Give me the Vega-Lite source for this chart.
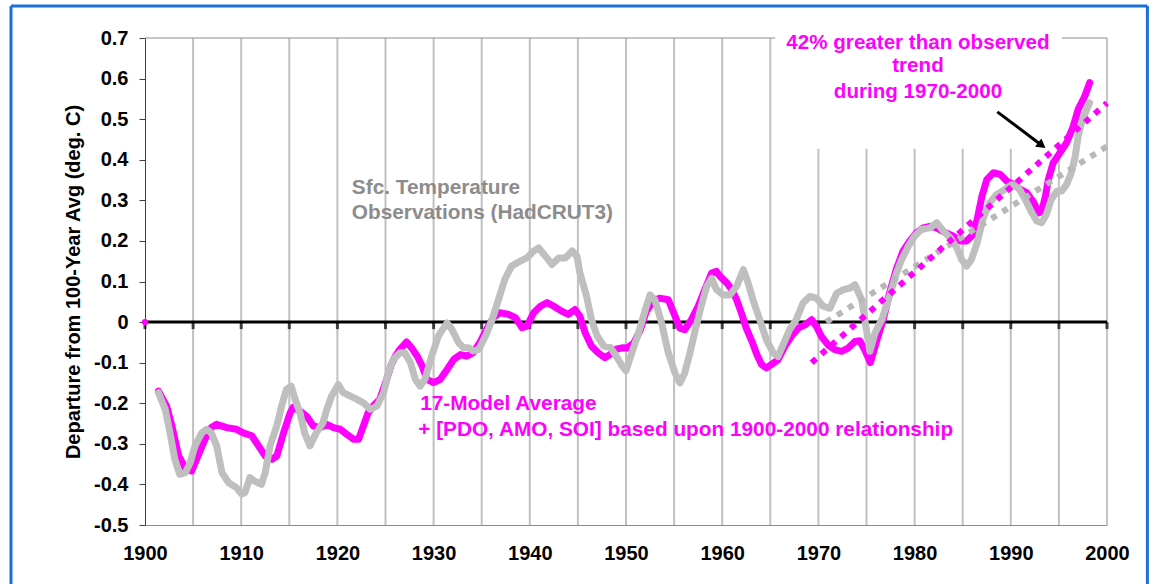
{
  "$schema": "https://vega.github.io/schema/vega-lite/v6.json",
  "width": 962,
  "height": 487,
  "autosize": {"type": "none"},
  "padding": {"left": 145, "top": 38, "right": 49, "bottom": 59},
  "background": "white",
  "config": {"view": {"stroke": null}, "font": "Liberation Sans"},
  "datasets": {
    "grid": [
      {"year": 1905, "value": -0.5, "value2": 0.7},
      {"year": 1910, "value": -0.5, "value2": 0.7},
      {"year": 1915, "value": -0.5, "value2": 0.7},
      {"year": 1920, "value": -0.5, "value2": 0.7},
      {"year": 1925, "value": -0.5, "value2": 0.7},
      {"year": 1930, "value": -0.5, "value2": 0.7},
      {"year": 1935, "value": -0.5, "value2": 0.7},
      {"year": 1940, "value": -0.5, "value2": 0.7},
      {"year": 1945, "value": -0.5, "value2": 0.7},
      {"year": 1950, "value": -0.5, "value2": 0.7},
      {"year": 1955, "value": -0.5, "value2": 0.7},
      {"year": 1960, "value": -0.5, "value2": 0.7},
      {"year": 1965, "value": -0.5, "value2": 0.7},
      {"year": 1970, "value": -0.5, "value2": 0.427},
      {"year": 1975, "value": -0.5, "value2": 0.427},
      {"year": 1980, "value": -0.5, "value2": 0.427},
      {"year": 1985, "value": -0.5, "value2": 0.427},
      {"year": 1990, "value": -0.5, "value2": 0.427},
      {"year": 1995, "value": -0.5, "value2": 0.427}
    ],
    "zeroticks": [
      {"year": 1900, "value": 0}, {"year": 1905, "value": 0}, {"year": 1910, "value": 0},
      {"year": 1915, "value": 0}, {"year": 1920, "value": 0}, {"year": 1925, "value": 0},
      {"year": 1930, "value": 0}, {"year": 1935, "value": 0}, {"year": 1940, "value": 0},
      {"year": 1945, "value": 0}, {"year": 1950, "value": 0}, {"year": 1955, "value": 0},
      {"year": 1960, "value": 0}, {"year": 1965, "value": 0}, {"year": 1970, "value": 0},
      {"year": 1975, "value": 0}, {"year": 1980, "value": 0}, {"year": 1985, "value": 0},
      {"year": 1990, "value": 0}, {"year": 1995, "value": 0}, {"year": 2000, "value": 0}
    ],
    "model": [
      {"year": 1901.4, "value": -0.17}, {"year": 1902.25, "value": -0.207}, {"year": 1902.8, "value": -0.256},
      {"year": 1903.5, "value": -0.33}, {"year": 1904.2, "value": -0.36}, {"year": 1904.85, "value": -0.367},
      {"year": 1905.5, "value": -0.33}, {"year": 1906.4, "value": -0.28}, {"year": 1906.9, "value": -0.26},
      {"year": 1907.45, "value": -0.252}, {"year": 1908.5, "value": -0.26}, {"year": 1909.5, "value": -0.264},
      {"year": 1910.2, "value": -0.273}, {"year": 1911.1, "value": -0.28}, {"year": 1911.8, "value": -0.305},
      {"year": 1912.5, "value": -0.33}, {"year": 1913.2, "value": -0.338}, {"year": 1913.7, "value": -0.33},
      {"year": 1914.4, "value": -0.273}, {"year": 1915.1, "value": -0.223}, {"year": 1915.4, "value": -0.21},
      {"year": 1916.1, "value": -0.219}, {"year": 1916.8, "value": -0.232}, {"year": 1917.5, "value": -0.256},
      {"year": 1918.2, "value": -0.26}, {"year": 1918.9, "value": -0.252}, {"year": 1919.6, "value": -0.26},
      {"year": 1920.3, "value": -0.264}, {"year": 1921.0, "value": -0.277}, {"year": 1921.7, "value": -0.289},
      {"year": 1922.2, "value": -0.289}, {"year": 1922.7, "value": -0.256}, {"year": 1923.2, "value": -0.223},
      {"year": 1923.7, "value": -0.207}, {"year": 1924.4, "value": -0.19}, {"year": 1925.0, "value": -0.15},
      {"year": 1925.6, "value": -0.105}, {"year": 1926.0, "value": -0.085}, {"year": 1926.5, "value": -0.067},
      {"year": 1927.2, "value": -0.049}, {"year": 1927.7, "value": -0.063}, {"year": 1928.3, "value": -0.084},
      {"year": 1928.8, "value": -0.108}, {"year": 1929.3, "value": -0.141}, {"year": 1930.0, "value": -0.149},
      {"year": 1930.7, "value": -0.141}, {"year": 1931.4, "value": -0.117}, {"year": 1932.1, "value": -0.092},
      {"year": 1932.8, "value": -0.08}, {"year": 1933.45, "value": -0.084}, {"year": 1934.1, "value": -0.0755},
      {"year": 1934.8, "value": -0.051}, {"year": 1935.5, "value": -0.018}, {"year": 1936.2, "value": 0.011},
      {"year": 1936.9, "value": 0.023}, {"year": 1937.8, "value": 0.019}, {"year": 1938.5, "value": 0.011},
      {"year": 1939.2, "value": -0.014}, {"year": 1939.7, "value": -0.01}, {"year": 1940.4, "value": 0.023},
      {"year": 1941.1, "value": 0.039}, {"year": 1941.8, "value": 0.048}, {"year": 1942.5, "value": 0.039},
      {"year": 1943.3, "value": 0.027}, {"year": 1944.0, "value": 0.019}, {"year": 1944.7, "value": 0.031},
      {"year": 1945.2, "value": 0.015}, {"year": 1945.75, "value": -0.026}, {"year": 1946.4, "value": -0.059},
      {"year": 1947.1, "value": -0.0755}, {"year": 1947.8, "value": -0.088}, {"year": 1948.35, "value": -0.08},
      {"year": 1949.0, "value": -0.067}, {"year": 1949.7, "value": -0.063}, {"year": 1950.1, "value": -0.064},
      {"year": 1950.8, "value": -0.052}, {"year": 1951.5, "value": -0.019}, {"year": 1952.1, "value": 0.026},
      {"year": 1952.8, "value": 0.051}, {"year": 1953.5, "value": 0.059}, {"year": 1954.4, "value": 0.055},
      {"year": 1954.9, "value": 0.026}, {"year": 1955.6, "value": -0.015}, {"year": 1956.1, "value": -0.019},
      {"year": 1956.8, "value": 0.006}, {"year": 1957.5, "value": 0.039}, {"year": 1958.2, "value": 0.08},
      {"year": 1958.9, "value": 0.121}, {"year": 1959.4, "value": 0.125}, {"year": 1959.8, "value": 0.112},
      {"year": 1960.5, "value": 0.096}, {"year": 1961.0, "value": 0.08}, {"year": 1961.5, "value": 0.055},
      {"year": 1962.0, "value": 0.022}, {"year": 1962.5, "value": -0.015}, {"year": 1963.1, "value": -0.048},
      {"year": 1963.6, "value": -0.08}, {"year": 1964.1, "value": -0.105}, {"year": 1964.6, "value": -0.113},
      {"year": 1965.1, "value": -0.105}, {"year": 1965.8, "value": -0.093}, {"year": 1966.5, "value": -0.06},
      {"year": 1967.2, "value": -0.035}, {"year": 1967.9, "value": -0.015}, {"year": 1968.6, "value": -0.007},
      {"year": 1969.3, "value": 0.006}, {"year": 1969.8, "value": -0.011}, {"year": 1970.3, "value": -0.035},
      {"year": 1971.0, "value": -0.056}, {"year": 1971.7, "value": -0.068}, {"year": 1972.4, "value": -0.072},
      {"year": 1973.1, "value": -0.064}, {"year": 1973.8, "value": -0.048}, {"year": 1974.3, "value": -0.046},
      {"year": 1974.8, "value": -0.068}, {"year": 1975.4, "value": -0.1}, {"year": 1976.1, "value": -0.043},
      {"year": 1976.75, "value": 0.007}, {"year": 1977.4, "value": 0.072}, {"year": 1978.1, "value": 0.13},
      {"year": 1978.8, "value": 0.175}, {"year": 1979.5, "value": 0.2}, {"year": 1980.2, "value": 0.22},
      {"year": 1980.9, "value": 0.232}, {"year": 1981.6, "value": 0.236}, {"year": 1982.3, "value": 0.232},
      {"year": 1983.2, "value": 0.22}, {"year": 1984.0, "value": 0.212}, {"year": 1984.7, "value": 0.2},
      {"year": 1985.4, "value": 0.2}, {"year": 1986.1, "value": 0.216}, {"year": 1986.5, "value": 0.253},
      {"year": 1987.0, "value": 0.31}, {"year": 1987.5, "value": 0.351}, {"year": 1988.2, "value": 0.368},
      {"year": 1988.9, "value": 0.364}, {"year": 1989.6, "value": 0.347}, {"year": 1990.3, "value": 0.339},
      {"year": 1991.0, "value": 0.327}, {"year": 1991.65, "value": 0.319}, {"year": 1992.4, "value": 0.294},
      {"year": 1992.9, "value": 0.269}, {"year": 1993.2, "value": 0.273}, {"year": 1993.6, "value": 0.31},
      {"year": 1993.9, "value": 0.351}, {"year": 1994.4, "value": 0.392}, {"year": 1995.1, "value": 0.417},
      {"year": 1995.8, "value": 0.442}, {"year": 1996.5, "value": 0.483}, {"year": 1997.0, "value": 0.524},
      {"year": 1997.7, "value": 0.557}, {"year": 1998.2, "value": 0.59}
    ],
    "obs": [
      {"year": 1901.4, "value": -0.174}, {"year": 1902.1, "value": -0.215}, {"year": 1902.6, "value": -0.273},
      {"year": 1903.1, "value": -0.338}, {"year": 1903.6, "value": -0.375}, {"year": 1904.2, "value": -0.371},
      {"year": 1904.7, "value": -0.346}, {"year": 1905.2, "value": -0.305}, {"year": 1905.9, "value": -0.273},
      {"year": 1906.4, "value": -0.264}, {"year": 1906.9, "value": -0.273}, {"year": 1907.45, "value": -0.305},
      {"year": 1908.0, "value": -0.371}, {"year": 1908.7, "value": -0.396}, {"year": 1909.5, "value": -0.408},
      {"year": 1910.05, "value": -0.424}, {"year": 1910.4, "value": -0.42}, {"year": 1910.9, "value": -0.383},
      {"year": 1911.4, "value": -0.392}, {"year": 1912.1, "value": -0.4}, {"year": 1912.5, "value": -0.371},
      {"year": 1913.0, "value": -0.305}, {"year": 1913.7, "value": -0.256}, {"year": 1914.2, "value": -0.207},
      {"year": 1914.7, "value": -0.166}, {"year": 1915.2, "value": -0.158}, {"year": 1915.6, "value": -0.19},
      {"year": 1916.1, "value": -0.223}, {"year": 1916.6, "value": -0.273}, {"year": 1917.15, "value": -0.305},
      {"year": 1917.8, "value": -0.273}, {"year": 1918.5, "value": -0.248}, {"year": 1918.9, "value": -0.215},
      {"year": 1919.4, "value": -0.182}, {"year": 1920.1, "value": -0.154}, {"year": 1920.6, "value": -0.174},
      {"year": 1921.3, "value": -0.182}, {"year": 1922.0, "value": -0.19}, {"year": 1922.7, "value": -0.199},
      {"year": 1923.4, "value": -0.215}, {"year": 1924.1, "value": -0.207}, {"year": 1924.8, "value": -0.174},
      {"year": 1925.3, "value": -0.125}, {"year": 1925.8, "value": -0.092}, {"year": 1926.5, "value": -0.0755},
      {"year": 1927.0, "value": -0.0755}, {"year": 1927.6, "value": -0.1}, {"year": 1928.1, "value": -0.141},
      {"year": 1928.6, "value": -0.158}, {"year": 1929.1, "value": -0.141}, {"year": 1929.8, "value": -0.084},
      {"year": 1930.5, "value": -0.034}, {"year": 1931.4, "value": -0.002}, {"year": 1931.9, "value": -0.018},
      {"year": 1932.6, "value": -0.051}, {"year": 1933.1, "value": -0.063}, {"year": 1933.6, "value": -0.063},
      {"year": 1934.1, "value": -0.071}, {"year": 1934.7, "value": -0.067}, {"year": 1935.4, "value": -0.034},
      {"year": 1936.1, "value": 0.0066}, {"year": 1936.75, "value": 0.056}, {"year": 1937.4, "value": 0.105},
      {"year": 1938.1, "value": 0.138}, {"year": 1939.0, "value": 0.15}, {"year": 1939.7, "value": 0.158},
      {"year": 1940.4, "value": 0.175}, {"year": 1940.9, "value": 0.183}, {"year": 1941.6, "value": 0.163},
      {"year": 1942.3, "value": 0.142}, {"year": 1943.0, "value": 0.158}, {"year": 1943.7, "value": 0.158},
      {"year": 1944.4, "value": 0.175}, {"year": 1944.9, "value": 0.163}, {"year": 1945.2, "value": 0.122},
      {"year": 1945.9, "value": 0.064}, {"year": 1946.4, "value": 0.0066}, {"year": 1947.0, "value": -0.034},
      {"year": 1947.7, "value": -0.059}, {"year": 1948.4, "value": -0.063}, {"year": 1949.0, "value": -0.084},
      {"year": 1949.6, "value": -0.108}, {"year": 1950.0, "value": -0.12}, {"year": 1950.6, "value": -0.076},
      {"year": 1951.3, "value": -0.027}, {"year": 1952.0, "value": 0.03}, {"year": 1952.5, "value": 0.067},
      {"year": 1953.0, "value": 0.055}, {"year": 1953.7, "value": -0.002}, {"year": 1954.4, "value": -0.076},
      {"year": 1955.1, "value": -0.126}, {"year": 1955.6, "value": -0.15}, {"year": 1956.1, "value": -0.126},
      {"year": 1956.65, "value": -0.076}, {"year": 1957.2, "value": -0.019}, {"year": 1957.9, "value": 0.047},
      {"year": 1958.4, "value": 0.088}, {"year": 1958.9, "value": 0.108}, {"year": 1959.4, "value": 0.08},
      {"year": 1960.1, "value": 0.067}, {"year": 1960.8, "value": 0.067}, {"year": 1961.5, "value": 0.088},
      {"year": 1962.2, "value": 0.129}, {"year": 1962.7, "value": 0.096}, {"year": 1963.2, "value": 0.055},
      {"year": 1963.9, "value": 0.006}, {"year": 1964.6, "value": -0.044}, {"year": 1965.3, "value": -0.076},
      {"year": 1965.8, "value": -0.085}, {"year": 1966.4, "value": -0.052}, {"year": 1967.0, "value": -0.019},
      {"year": 1967.7, "value": 0.006}, {"year": 1968.4, "value": 0.047}, {"year": 1969.1, "value": 0.063},
      {"year": 1969.8, "value": 0.059}, {"year": 1970.5, "value": 0.039}, {"year": 1971.2, "value": 0.034},
      {"year": 1971.9, "value": 0.071}, {"year": 1972.6, "value": 0.08}, {"year": 1973.3, "value": 0.084},
      {"year": 1973.8, "value": 0.092}, {"year": 1974.5, "value": 0.055}, {"year": 1975.0, "value": -0.02},
      {"year": 1975.35, "value": -0.072}, {"year": 1975.9, "value": -0.026}, {"year": 1976.6, "value": 0.007},
      {"year": 1977.4, "value": 0.064}, {"year": 1978.1, "value": 0.12}, {"year": 1978.65, "value": 0.154},
      {"year": 1979.35, "value": 0.187}, {"year": 1980.0, "value": 0.212}, {"year": 1980.7, "value": 0.228},
      {"year": 1981.6, "value": 0.232}, {"year": 1982.3, "value": 0.245}, {"year": 1983.0, "value": 0.224},
      {"year": 1983.7, "value": 0.208}, {"year": 1984.4, "value": 0.183}, {"year": 1984.9, "value": 0.154},
      {"year": 1985.4, "value": 0.138}, {"year": 1985.9, "value": 0.154}, {"year": 1986.5, "value": 0.195},
      {"year": 1987.1, "value": 0.253}, {"year": 1987.8, "value": 0.294}, {"year": 1988.5, "value": 0.314},
      {"year": 1989.4, "value": 0.327}, {"year": 1990.1, "value": 0.339}, {"year": 1990.8, "value": 0.331},
      {"year": 1991.5, "value": 0.302}, {"year": 1992.2, "value": 0.269}, {"year": 1992.7, "value": 0.249},
      {"year": 1993.2, "value": 0.245}, {"year": 1993.7, "value": 0.265}, {"year": 1994.2, "value": 0.302},
      {"year": 1994.8, "value": 0.323}, {"year": 1995.3, "value": 0.323}, {"year": 1995.8, "value": 0.339},
      {"year": 1996.3, "value": 0.368}, {"year": 1996.7, "value": 0.409}, {"year": 1997.0, "value": 0.458},
      {"year": 1997.5, "value": 0.503}, {"year": 1998.2, "value": 0.54}
    ]
  },
  "encoding": {
    "x": {
      "field": "year", "type": "quantitative",
      "scale": {"domain": [1900, 2000], "nice": false, "zero": false},
      "axis": {
        "title": null,
        "values": [1900, 1910, 1920, 1930, 1940, 1950, 1960, 1970, 1980, 1990, 2000],
        "format": "d", "grid": false, "ticks": false,
        "domainColor": "#8c8c8c", "domainWidth": 1,
        "labelFont": "Liberation Sans", "labelFontSize": 20, "labelFontWeight": "bold",
        "labelColor": "#000000", "labelPadding": 18, "labelFlush": false, "labelOverlap": false
      }
    },
    "y": {
      "field": "value", "type": "quantitative",
      "scale": {"domain": [-0.5, 0.7], "nice": false, "zero": false},
      "axis": {
        "title": "Departure from 100-Year Avg (deg. C)",
        "values": [-0.5, -0.4, -0.3, -0.2, -0.1, 0, 0.1, 0.2, 0.3, 0.4, 0.5, 0.6, 0.7],
        "labelExpr": "datum.value == 0 ? '0' : replace(format(datum.value, '.1f'), '\u2212', '-')",
        "grid": false, "tickSize": 6, "tickColor": "#404040", "domainColor": "#404040",
        "labelFont": "Liberation Sans", "labelFontSize": 20, "labelFontWeight": "bold",
        "labelColor": "#000000", "labelPadding": 11,
        "titleFont": "Liberation Sans", "titleFontSize": 20, "titleFontWeight": "bold",
        "titleColor": "#000000", "titlePadding": 10
      }
    }
  },
  "layer": [
    {
      "data": {"name": "grid"},
      "mark": {"type": "rule", "color": "#c0c0c0", "strokeWidth": 2},
      "encoding": {"y2": {"field": "value2"}}
    },
    {
      "data": {"values": [
        {"year": 1900, "year2": 1965.5, "value": 0.7},
        {"year": 1995.3, "year2": 2000, "value": 0.7}
      ]},
      "mark": {"type": "rule", "color": "#8c8c8c", "strokeWidth": 1},
      "encoding": {"x2": {"field": "year2"}}
    },
    {
      "data": {"values": [{"year": 2000, "value": -0.5, "value2": 0.7}]},
      "mark": {"type": "rule", "color": "#8c8c8c", "strokeWidth": 1},
      "encoding": {"y2": {"field": "value2"}}
    },
    {
      "data": {"values": [{"year": 1900, "year2": 2000, "value": 0}]},
      "mark": {"type": "rule", "color": "#000000", "strokeWidth": 3},
      "encoding": {"x2": {"field": "year2"}}
    },
    {
      "data": {"name": "zeroticks"},
      "mark": {"type": "tick", "orient": "vertical", "color": "#000000", "size": 7, "thickness": 3, "yOffset": 3.5}
    },
    {
      "data": {"name": "model"},
      "mark": {"type": "line", "color": "#ff00ff", "strokeWidth": 7, "strokeCap": "round", "strokeJoin": "round"}
    },
    {
      "data": {"name": "obs"},
      "mark": {"type": "line", "color": "#bfbfbf", "strokeWidth": 7, "strokeCap": "round", "strokeJoin": "round"}
    },
    {
      "data": {"values": [{"year": 1970.8, "value": 0.0}, {"year": 2000, "value": 0.433}]},
      "mark": {"type": "line", "color": "#b8b8b8", "strokeWidth": 6, "strokeDash": [6, 7]}
    },
    {
      "data": {"values": [{"year": 1969.3, "value": -0.1}, {"year": 2000, "value": 0.54}]},
      "mark": {"type": "line", "color": "#ff00ff", "strokeWidth": 6, "strokeDash": [6, 7]}
    },
    {
      "data": {"values": [{"year": 1900, "value": 0}]},
      "mark": {"type": "point", "filled": true, "color": "#ff00ff", "size": 40, "opacity": 1}
    },
    {
      "data": {"values": [{"year": 1988.6, "year2": 1993.1, "value": 0.518, "value2": 0.4377}]},
      "mark": {"type": "rule", "color": "#000000", "strokeWidth": 3},
      "encoding": {"x2": {"field": "year2"}, "y2": {"field": "value2"}}
    },
    {
      "data": {"values": [{"year": 1993.1, "value": 0.4377}]},
      "mark": {"type": "point", "shape": "triangle", "filled": true, "color": "#000000", "size": 110, "angle": 127, "opacity": 1}
    },
    {
      "data": {"values": [
        {"year": 1921.5, "value": 0.3305, "label": "Sfc. Temperature"},
        {"year": 1921.5, "value": 0.269, "label": "Observations (HadCRUT3)"}
      ]},
      "mark": {"type": "text", "align": "left", "baseline": "middle", "font": "Liberation Sans", "fontSize": 20.8, "fontWeight": "bold", "color": "#8c8c8c"},
      "encoding": {"text": {"field": "label"}}
    },
    {
      "data": {"values": [
        {"year": 1928.6, "value": -0.2015, "label": "17-Model Average"},
        {"year": 1928.4, "value": -0.2655, "label": "+ [PDO, AMO, SOI] based upon 1900-2000 relationship"}
      ]},
      "mark": {"type": "text", "align": "left", "baseline": "middle", "font": "Liberation Sans", "fontSize": 20.8, "fontWeight": "bold", "color": "#ff00ff"},
      "encoding": {"text": {"field": "label"}}
    },
    {
      "data": {"values": [
        {"year": 1980.35, "value": 0.6877, "label": "42% greater than observed"},
        {"year": 1980.35, "value": 0.631, "label": "trend"},
        {"year": 1980.35, "value": 0.567, "label": "during 1970-2000"}
      ]},
      "mark": {"type": "text", "align": "center", "baseline": "middle", "font": "Liberation Sans", "fontSize": 20.6, "fontWeight": "bold", "color": "#ff00ff"},
      "encoding": {"text": {"field": "label"}}
    },
    {
      "data": {"values": [
        {"year": 1886.07, "value": -0.7, "value2": 0.7788},
        {"year": 2004.2, "value": -0.7, "value2": 0.7788}
      ]},
      "mark": {"type": "rule", "color": "#1a6fdc", "strokeWidth": 3},
      "encoding": {"y2": {"field": "value2"}}
    },
    {
      "data": {"values": [{"year": 1886.07, "year2": 2004.2, "value": 0.7788}]},
      "mark": {"type": "rule", "color": "#1a6fdc", "strokeWidth": 3},
      "encoding": {"x2": {"field": "year2"}}
    }
  ]
}
